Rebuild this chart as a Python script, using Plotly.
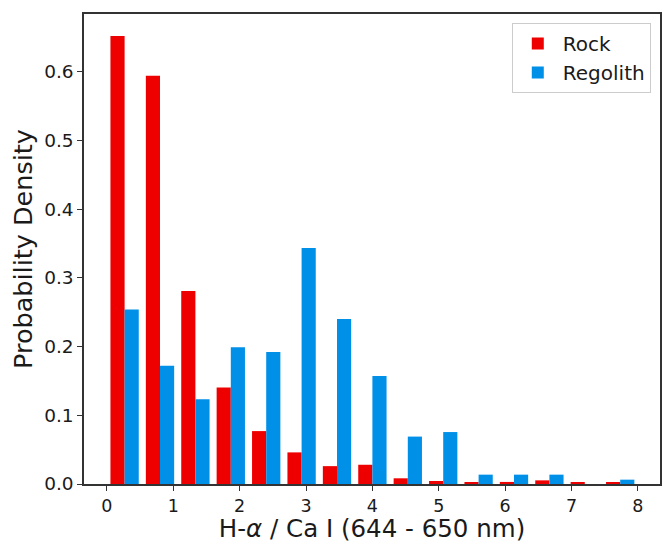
import plotly.graph_objects as go

# Histogram bins: 15 bins from 0 to 8
bin_edges_start = 0.0
bin_edges_end = 8.0
n_bins = 15
bin_width = (bin_edges_end - bin_edges_start) / n_bins
bin_centers = [bin_edges_start + bin_width * (i + 0.5) for i in range(n_bins)]

rock = [0.652, 0.594, 0.281, 0.1405, 0.077, 0.046, 0.026, 0.028,
        0.0083, 0.0044, 0.0024, 0.003, 0.0053, 0.002, 0.002]
regolith = [0.254, 0.172, 0.1235, 0.199, 0.192, 0.3435, 0.240, 0.157,
            0.069, 0.0756, 0.0136, 0.0136, 0.0136, 0.0, 0.0063]

x_ticks = [0, 1, 2, 3, 4, 5, 6, 7, 8]
y_ticks = [0.0, 0.1, 0.2, 0.3, 0.4, 0.5, 0.6]

FONT = "DejaVu Sans"
AXIS_COLOR = "#333333"
TEXT_COLOR = "#1a1a1a"

fig = go.Figure()
fig.add_trace(go.Bar(x=bin_centers, y=rock, name="Rock",
                     marker=dict(color="#EE0000", line=dict(width=0))))
fig.add_trace(go.Bar(x=bin_centers, y=regolith, name="Regolith",
                     marker=dict(color="#0090E8", line=dict(width=0))))

fig.update_layout(
    width=662, height=543,
    margin=dict(l=84, r=0, t=14, b=59),
    paper_bgcolor="white", plot_bgcolor="white",
    barmode="group", bargap=0.2, bargroupgap=0.0,
    font=dict(family=FONT, color=TEXT_COLOR),
    showlegend=True,
    legend=dict(
        x=0.984, y=0.981, xanchor="right", yanchor="top",
        bgcolor="white", bordercolor="#cccccc", borderwidth=1,
        font=dict(family=FONT, size=20, color=TEXT_COLOR),
        itemwidth=40,
    ),
)

fig.update_xaxes(
    range=[-0.345, 8.333],
    tickmode="array", tickvals=x_ticks, ticktext=[str(v) for v in x_ticks],
    ticks="outside", ticklen=5, tickwidth=1.3, tickcolor=AXIS_COLOR,
    tickfont=dict(family=FONT, size=17.5, color=TEXT_COLOR),
    showline=True, linecolor=AXIS_COLOR, linewidth=1.5, mirror=True,
    showgrid=False, zeroline=False,
    title=dict(text="H-<i>α</i> / Ca I (644 - 650 nm)",
               font=dict(family=FONT, size=24.5, color=TEXT_COLOR), standoff=0),
)
fig.update_yaxes(
    range=[0, 0.684],
    tickmode="array", tickvals=y_ticks, ticktext=[f"{v:.1f}" for v in y_ticks],
    ticks="outside", ticklen=5, tickwidth=1.3, tickcolor=AXIS_COLOR,
    tickfont=dict(family=FONT, size=18.5, color=TEXT_COLOR),
    showline=True, linecolor=AXIS_COLOR, linewidth=1.5, mirror=True,
    showgrid=False, zeroline=False,
    title=dict(text="Probability Density",
               font=dict(family=FONT, size=25.5, color=TEXT_COLOR), standoff=4),
)

fig.write_html("out.html")
